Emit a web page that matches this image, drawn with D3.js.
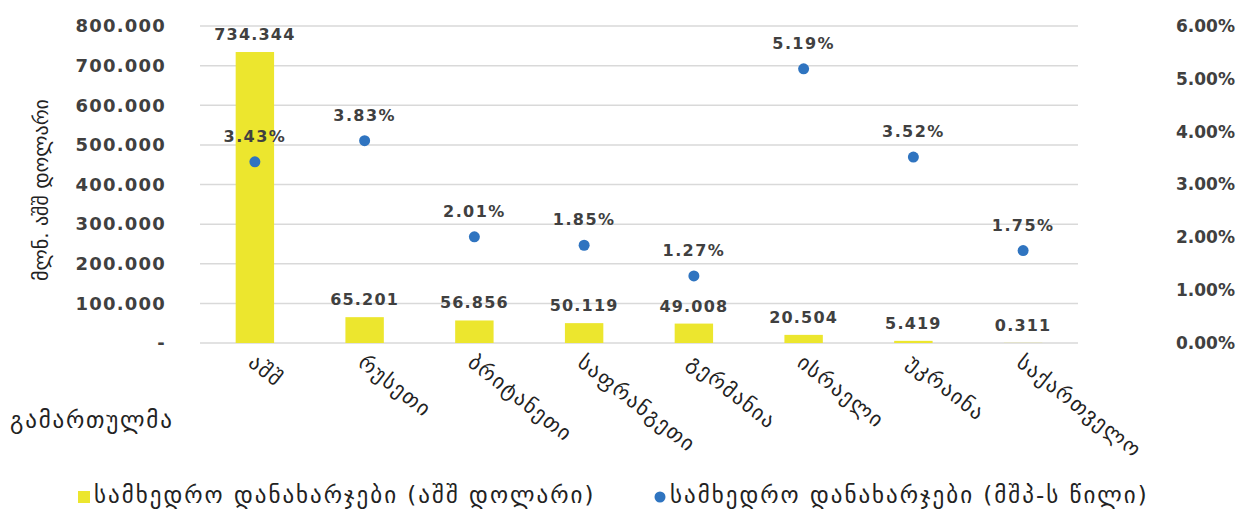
<!DOCTYPE html>
<html><head><meta charset="utf-8">
<script src="https://cdn.jsdelivr.net/npm/d3@7"></script>
<style>body{margin:0;background:#fff;} svg{display:block;}</style>
</head><body>
<svg id="c" width="1239" height="517"></svg>
<script>
const categories = ["აშშ","რუსეთი","ბრიტანეთი","საფრანგეთი","გერმანია","ისრაელი","უკრაინა","საქართველო"];
const spending = [734.344, 65.201, 56.856, 50.119, 49.008, 20.504, 5.419, 0.311];
const spendingLabels = ["734.344","65.201","56.856","50.119","49.008","20.504","5.419","0.311"];
const gdpShare = [3.43, 3.83, 2.01, 1.85, 1.27, 5.19, 3.52, 1.75];
const leftTicks = [0,100,200,300,400,500,600,700,800];
const leftTickLabels = ["-","100.000","200.000","300.000","400.000","500.000","600.000","700.000","800.000"];
const rightTicks = [0,1,2,3,4,5,6];
const rightTickLabels = ["0.00%","1.00%","2.00%","3.00%","4.00%","5.00%","6.00%"];
const yTitle = "მლნ. აშშ დოლარი";
const xTitle = "გამართულმა";
const legendLabels = ["სამხედრო დანახარჯები (აშშ დოლარი)","სამხედრო დანახარჯები (მშპ-ს წილი)"];

const svg = d3.select("#c");
const L = 200, R = 1078, T = 26, B = 343;
const font = "'DejaVu Sans', sans-serif";
const geoFont = "'DejaVu Sans', sans-serif";
const txt = "#404040";

const x = d3.scaleBand().domain(categories).range([L, R]).paddingInner(0.65).paddingOuter(0.325);
const y = d3.scaleLinear().domain([0, 800]).range([B, T]);
const y2 = d3.scaleLinear().domain([0, 6]).range([B, T]);

// grid
svg.append("g").selectAll("line").data(leftTicks).join("line")
  .attr("x1", L).attr("x2", R).attr("y1", d => y(d)).attr("y2", d => y(d))
  .attr("stroke", "#d9d9d9").attr("stroke-width", 1.5);

// left axis
const la = svg.append("g").attr("transform", `translate(${L},0)`)
  .call(d3.axisLeft(y).tickValues(leftTicks).tickSize(0).tickPadding(34)
    .tickFormat((d,i) => leftTickLabels[i]));
la.select(".domain").remove();
la.selectAll("text").attr("font-family", font).attr("font-size", 18).attr("font-weight", "bold")
  .attr("letter-spacing", 1.2).attr("fill", txt);

// right axis
const ra = svg.append("g").attr("transform", `translate(${R},0)`)
  .call(d3.axisRight(y2).tickValues(rightTicks).tickSize(0).tickPadding(98)
    .tickFormat((d,i) => rightTickLabels[i]));
ra.select(".domain").remove();
ra.selectAll("text").attr("font-family", font).attr("font-size", 17).attr("font-weight", "bold").attr("fill", txt);

// bars
svg.append("g").selectAll("rect").data(spending).join("rect")
  .attr("x", (d,i) => x(categories[i])).attr("width", x.bandwidth())
  .attr("y", d => y(d)).attr("height", d => B - y(d)).attr("fill", "#ECE62E");

svg.append("g").selectAll("text").data(spending).join("text")
  .attr("x", (d,i) => x(categories[i]) + x.bandwidth()/2).attr("y", d => y(d) - 12)
  .attr("text-anchor", "middle").attr("font-family", font).attr("font-size", 16).attr("font-weight", "bold")
  .attr("letter-spacing", 1.2).attr("fill", txt).text((d,i) => spendingLabels[i]);

// dots
svg.append("g").selectAll("circle").data(gdpShare).join("circle")
  .attr("cx", (d,i) => x(categories[i]) + x.bandwidth()/2).attr("cy", d => y2(d))
  .attr("r", 5.5).attr("fill", "#2F74C0");

svg.append("g").selectAll("text").data(gdpShare).join("text")
  .attr("x", (d,i) => x(categories[i]) + x.bandwidth()/2).attr("y", d => y2(d) - 20)
  .attr("text-anchor", "middle").attr("font-family", font).attr("font-size", 16).attr("font-weight", "bold")
  .attr("letter-spacing", 1.4).attr("fill", txt).text(d => d.toFixed(2) + "%");

// x labels
svg.append("g").selectAll("text").data(categories).join("text")
  .attr("transform", d => `translate(${x(d) + x.bandwidth()/2 - 8},${365}) rotate(38)`)
  .attr("font-family", geoFont).attr("font-size", 21).attr("letter-spacing", 1.5).attr("fill", "#222").text(d => d);

// titles
svg.append("text").attr("transform", `translate(48,190) rotate(-90)`).attr("text-anchor", "middle")
  .attr("font-family", geoFont).attr("font-size", 20).attr("fill", "#222").text(yTitle);
svg.append("text").attr("x", 10).attr("y", 428)
  .attr("font-family", geoFont).attr("font-size", 23).attr("letter-spacing", 1.8).attr("fill", "#222").text(xTitle);

// legend
svg.append("rect").attr("x", 78).attr("y", 491).attr("width", 12).attr("height", 12).attr("fill", "#ECE62E");
svg.append("text").attr("x", 94).attr("y", 503).attr("font-family", geoFont).attr("font-size", 23)
  .attr("letter-spacing", 2).attr("fill", "#222").text(legendLabels[0]);
svg.append("circle").attr("cx", 660).attr("cy", 497).attr("r", 5.5).attr("fill", "#2F74C0");
svg.append("text").attr("x", 670).attr("y", 503).attr("font-family", geoFont).attr("font-size", 23)
  .attr("letter-spacing", 2).attr("fill", "#222").text(legendLabels[1]);
</script>
</body></html>
